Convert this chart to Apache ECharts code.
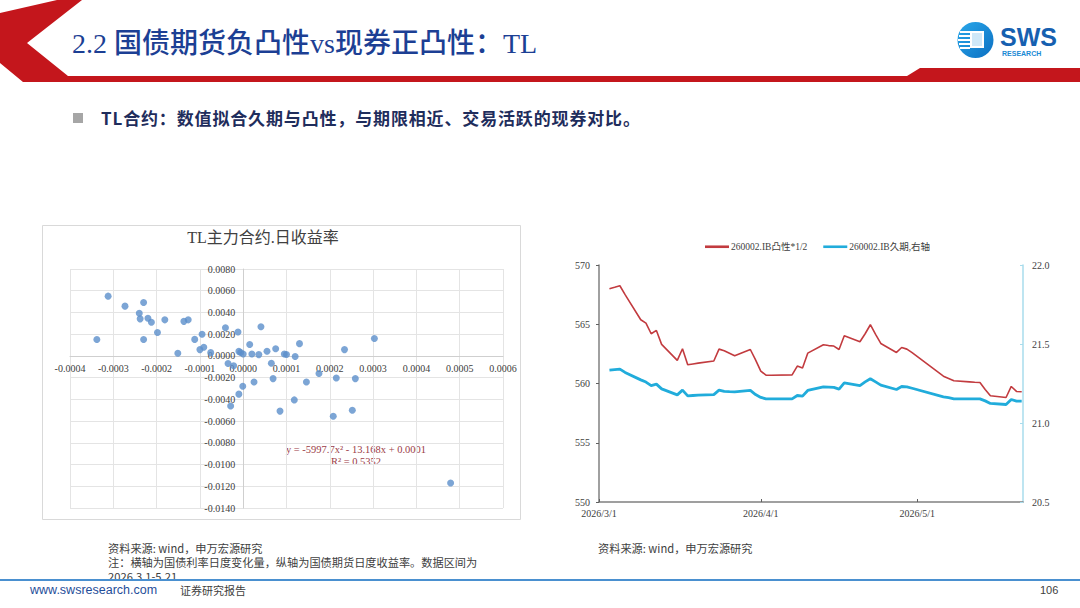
<!DOCTYPE html>
<html>
<head>
<meta charset="utf-8">
<script src="https://cdn.jsdelivr.net/npm/echarts@6/dist/echarts.min.js"></script>
<style>
  html,body{margin:0;padding:0;background:#fff;}
  body{width:1080px;height:608px;position:relative;overflow:hidden;font-family:"Noto Sans CJK SC","Liberation Sans",sans-serif;}
  #chart{position:absolute;left:0;top:0;width:1080px;height:608px;}
  .abs{position:absolute;white-space:nowrap;}
  #title{left:72px;top:25px;font-size:28px;line-height:38px;color:#1c3f94;font-family:"Liberation Serif","Noto Sans CJK SC",serif;font-weight:500;}
  #subtitle{left:101px;top:106px;font-size:17px;line-height:24px;color:#1f2d5c;font-weight:bold;letter-spacing:0.85px;}
  #bullet{left:73px;top:113px;width:10px;height:10px;background:#a6a6a6;}
  .src{font-size:11.2px;line-height:14px;color:#404040;}
  #www{left:30px;top:583px;font-size:12.5px;color:#1f4e9a;font-family:"Liberation Sans",Arial,sans-serif;}
  #report{left:180px;top:582px;font-size:11px;color:#404040;}
  #page{left:1040px;top:584px;font-size:11px;color:#404040;font-family:"Liberation Sans",Arial,sans-serif;}
</style>
</head>
<body>
<svg class="abs" style="left:0;top:0" width="1080" height="100">
  <polygon points="57,0 82,0 27,43 68,76 907,76 920,68 1080,68 1080,82 23,82 0,63 0,13" fill="#c4161c"/>
  <defs>
    <linearGradient id="lg" x1="0" y1="0" x2="1" y2="1">
      <stop offset="0" stop-color="#2aa8ea"/>
      <stop offset="1" stop-color="#0b6fc2"/>
    </linearGradient>
  </defs>
  <circle cx="975.5" cy="40" r="18" fill="url(#lg)"/>
  <rect x="960" y="31" width="10" height="2" fill="#fff"/>
  <rect x="959" y="35" width="11" height="2" fill="#fff"/>
  <rect x="958" y="39" width="12" height="2" fill="#fff"/>
  <rect x="959" y="43" width="11" height="2" fill="#fff"/>
  <rect x="960" y="47" width="10" height="2" fill="#fff"/>
  <rect x="970" y="31" width="14" height="17" fill="#fff"/>
  <rect x="972" y="33" width="10" height="13" fill="#cfe8f8"/>
  <text x="1000" y="46" font-family="Liberation Sans, Arial, sans-serif" font-weight="bold" font-size="25" fill="#1660b0">SWS</text>
  <text x="1002" y="56" font-family="Liberation Sans, Arial, sans-serif" font-weight="bold" font-size="7" fill="#1a8ad4">RESEARCH</text>
</svg>
<div id="title" class="abs">2.2 国债期货负凸性vs现券正凸性：TL</div>
<div id="bullet" class="abs"></div>
<div id="subtitle" class="abs">TL合约：数值拟合久期与凸性，与期限相近、交易活跃的现券对比。</div>
<div id="chart"></div>
<div class="abs src" style="left:108px;top:541px;">资料来源: wind，申万宏源研究</div>
<div class="abs src" style="left:108px;top:555px;">注：横轴为国债利率日度变化量，纵轴为国债期货日度收益率。数据区间为</div>
<div class="abs src" style="left:108px;top:569px;">2026.3.1-5.21</div>
<div class="abs src" style="left:598px;top:541px;">资料来源: wind，申万宏源研究</div>
<div class="abs" style="left:0;top:579px;width:1080px;height:2px;background:#4a90d0;"></div>
<div id="www" class="abs">www.swsresearch.com</div>
<div id="report" class="abs">证券研究报告</div>
<div id="page" class="abs">106</div>
<script>
// ---- Scatter: TL main contract daily return vs bond yield daily change ----
const rateChange = [-0.000312, -0.000338, -0.000273, -0.000230, -0.000240, -0.000238, -0.000220, -0.000212, -0.000230, -0.000198,
  -0.000181, -0.000151, -0.000137, -0.000127, -0.000112, -0.000100, -0.000091, -0.000095, -0.000075, -0.000041,
  -0.000035, -0.000029, -0.000022, -0.000012, -0.000010, -0.000006, 0.000000, -0.000010, -0.000001, 0.000015,
  0.000020, 0.000025, 0.000036, 0.000041, 0.000055, 0.000065, 0.000069, 0.000075, 0.000085, 0.000095,
  0.000100, 0.000118, 0.000120, 0.000130, 0.000146, 0.000175, 0.000208, 0.000215, 0.000234, 0.000252,
  0.000259, 0.000303, 0.000479];
const futReturn = [0.00550, 0.00151, 0.00458, 0.00492, 0.00393, 0.00341, 0.00347, 0.00310, 0.00151, 0.00215,
  0.00332, 0.00025, 0.00318, 0.00332, 0.00152, 0.00058, 0.00079, 0.00199, 0.00030, 0.00259,
  -0.00070, -0.00461, -0.00090, 0.00220, 0.00042, 0.00031, 0.00018, -0.00352, -0.00280, 0.00105,
  0.00018, -0.00240, 0.00012, 0.00268, 0.00043, -0.00067, -0.00209, 0.00066, -0.00508, 0.00018,
  0.00013, -0.00405, -0.00005, 0.00113, -0.00240, -0.00162, -0.00556, -0.00203, 0.00058, -0.00501,
  -0.00209, 0.00160, -0.01170];
const xTickLabels = ['-0.0004','-0.0003','-0.0002','-0.0001','0.0000','0.0001','0.0002','0.0003','0.0004','0.0005','0.0006'];
const scatterTitle = 'TL主力合约.日收益率';
const trendEquation = 'y = -5997.7x² - 13.168x + 0.0001';
const trendR2 = 'R² = 0.5352';

// ---- Lines: 260002.IB convexity*1/2 (left) and duration (right) ----
const tradeDates = ['2026-03-03','2026-03-04','2026-03-05','2026-03-06','2026-03-09','2026-03-10','2026-03-11','2026-03-12','2026-03-13',
  '2026-03-16','2026-03-17','2026-03-18','2026-03-19','2026-03-20','2026-03-23','2026-03-24','2026-03-25','2026-03-26','2026-03-27',
  '2026-03-30','2026-03-31','2026-04-01','2026-04-02','2026-04-03','2026-04-07','2026-04-08','2026-04-09','2026-04-10',
  '2026-04-13','2026-04-14','2026-04-15','2026-04-16','2026-04-17','2026-04-20','2026-04-21','2026-04-22','2026-04-23','2026-04-24',
  '2026-04-27','2026-04-28','2026-04-29','2026-04-30','2026-05-06','2026-05-07','2026-05-08','2026-05-11','2026-05-12','2026-05-13',
  '2026-05-14','2026-05-15','2026-05-18','2026-05-19','2026-05-20','2026-05-21'];
const convexityHalf = [568.00, 568.12, 568.25, 567.50, 565.38, 565.10, 564.20, 564.48, 563.30,
  561.95, 562.93, 561.58, 561.65, 561.72, 561.90, 562.90, 562.76, 562.55, 562.34,
  562.87, 562.00, 561.05, 560.70, 560.70, 560.73, 561.47, 561.30, 562.56,
  563.27, 563.20, 563.16, 562.87, 564.03, 563.52, 564.20, 564.96, 564.15, 563.38,
  562.62, 563.04, 562.90, 562.60, 560.62, 560.43, 560.23, 560.14, 560.10, 560.09,
  559.50, 558.96, 558.82, 559.75, 559.33, 559.30];
const duration = [21.335, 21.338, 21.341, 21.320, 21.273, 21.259, 21.237, 21.246, 21.216,
  21.178, 21.208, 21.172, 21.174, 21.176, 21.180, 21.208, 21.200, 21.198, 21.197,
  21.206, 21.180, 21.162, 21.153, 21.153, 21.153, 21.174, 21.170, 21.206,
  21.229, 21.227, 21.225, 21.214, 21.254, 21.237, 21.260, 21.280, 21.260, 21.240,
  21.212, 21.231, 21.229, 21.220, 21.165, 21.160, 21.153, 21.153, 21.153, 21.153,
  21.140, 21.124, 21.117, 21.149, 21.138, 21.138];
const seriesNames = ['260002.IB凸性*1/2', '260002.IB久期,右轴'];
const dateTickLabels = ['2026/3/1', '2026/4/1', '2026/5/1'];
const axisStartDate = '2026-03-01';
const axisEndDate = '2026-05-21';

const DAY = 24 * 3600 * 1000;
function toUTC(s) { const p = s.split(/[-\/]/).map(Number); return Date.UTC(p[0], p[1] - 1, p[2]); }
const t0 = toUTC(axisStartDate);
function dayNo(s) { return Math.round((toUTC(s) - t0) / DAY); }
const dateTicks = dateTickLabels.map(dayNo);

const serif = '"Liberation Serif","Times New Roman","Noto Sans CJK SC",serif';
const axisLabelStyle = { fontFamily: serif, fontSize: 10, color: '#404040' };
const RED = '#c23b3f', BLUE = '#21acdb';

// scatter grid and scales (axes cross at zero, as in the reference)
const sg = { left: 70, top: 269, width: 433, height: 239 };
const sx = { min: -0.0004, max: 0.0006, interval: 0.0001 };
const sy = { min: -0.014, max: 0.008, interval: 0.002 };
const xAxisShift = -sg.height * (0 - sy.min) / (sy.max - sy.min);   // move bottom axis up to y = 0
const yAxisShift = -sg.width * (0 - sx.min) / (sx.max - sx.min);     // move left axis right to x = 0

const chart = echarts.init(document.getElementById('chart'), null, { renderer: 'svg' });
const option = {
  animation: false,
  grid: [
    sg,
    { left: 599, top: 265, width: 424, height: 237 }
  ],
  legend: {
    data: [
      { name: seriesNames[0], icon: 'rect', itemStyle: { color: RED } },
      { name: seriesNames[1], icon: 'rect', itemStyle: { color: BLUE } }
    ],
    left: 700, top: 237,
    itemWidth: 24, itemHeight: 2.6, itemGap: 16,
    textStyle: { fontFamily: serif, fontSize: 9.5, color: '#404040', padding: [0, 0, 0, -3] }
  },
  xAxis: [
    {
      gridIndex: 0, type: 'value', min: sx.min, max: sx.max, interval: sx.interval,
      position: 'bottom', offset: xAxisShift,
      axisLine: { show: true, onZero: false, lineStyle: { color: '#cfcfcf' } },
      axisTick: { show: false },
      axisLabel: Object.assign({ margin: 8, formatter: function (v) { const i = Math.round(v / 0.0001) + 4; return xTickLabels[i]; } }, axisLabelStyle),
      splitLine: { show: true, lineStyle: { color: '#e4e4e4' } }
    },
    {
      gridIndex: 1, type: 'value', min: 0, max: dayNo(axisEndDate) + 0.25,
      axisLine: { show: true, onZero: false, lineStyle: { color: '#808080', width: 1.5 } },
      axisTick: { show: true, inside: true, length: 3, lineStyle: { color: '#606060' }, customValues: dateTicks },
      axisLabel: Object.assign({ margin: 6, customValues: dateTicks,
        formatter: function (v) { const i = dateTicks.indexOf(Math.round(v)); return i >= 0 ? dateTickLabels[i] : ''; } }, axisLabelStyle),
      splitLine: { show: false }
    }
  ],
  yAxis: [
    {
      gridIndex: 0, type: 'value', min: sy.min, max: sy.max, interval: sy.interval,
      position: 'left', offset: yAxisShift,
      axisLine: { show: true, onZero: false, lineStyle: { color: '#cfcfcf' } },
      axisTick: { show: false },
      axisLabel: Object.assign({ margin: 8, formatter: function (v) { return Math.abs(v) < 1e-12 ? '0.0000' : v.toFixed(4); } }, axisLabelStyle),
      splitLine: { show: true, lineStyle: { color: '#e4e4e4' } }
    },
    {
      gridIndex: 1, type: 'value', min: 550, max: 570, interval: 5,
      axisLine: { show: true, onZero: false, lineStyle: { color: '#808080', width: 1.5 } },
      axisTick: { show: true, length: 3, lineStyle: { color: '#606060' } },
      axisLabel: Object.assign({ margin: 9 }, axisLabelStyle),
      splitLine: { show: false }
    },
    {
      gridIndex: 1, type: 'value', position: 'right', min: 20.5, max: 22, interval: 0.5,
      axisLine: { show: true, onZero: false, lineStyle: { color: '#a8dcec', width: 1.5 } },
      axisTick: { show: true, inside: true, length: 3, lineStyle: { color: '#a8dcec' } },
      axisLabel: Object.assign({ margin: 9, formatter: function (v) { return v.toFixed(1); } }, axisLabelStyle),
      splitLine: { show: false }
    }
  ],
  series: [
    {
      type: 'scatter', xAxisIndex: 0, yAxisIndex: 0, symbolSize: 7,
      itemStyle: { color: '#5b8fcb' },
      data: rateChange.map(function (x, i) { return [x, futReturn[i]]; }),
      z: 5
    },
    {
      name: seriesNames[0], type: 'line', xAxisIndex: 1, yAxisIndex: 1, symbol: 'none',
      lineStyle: { color: RED, width: 1.6 }, itemStyle: { color: RED },
      data: tradeDates.map(function (d, i) { return [dayNo(d), convexityHalf[i]]; })
    },
    {
      name: seriesNames[1], type: 'line', xAxisIndex: 1, yAxisIndex: 2, symbol: 'none',
      lineStyle: { color: BLUE, width: 2.8 }, itemStyle: { color: BLUE },
      data: tradeDates.map(function (d, i) { return [dayNo(d), duration[i]]; })
    }
  ],
  graphic: [
    { type: 'rect', shape: { x: 42.5, y: 225.5, width: 478, height: 294 }, style: { fill: 'none', stroke: '#d9d9d9', lineWidth: 1 }, silent: true, z: -1 },
    { type: 'text', x: 263, y: 237, style: { text: scatterTitle, font: '16px "Liberation Serif","Noto Sans CJK SC",serif', fill: '#404040', textAlign: 'center', textVerticalAlign: 'middle' } },
    { type: 'text', x: 356, y: 449, style: { text: trendEquation, font: '10.5px "Liberation Serif","Times New Roman",serif', fill: '#9b3b46', textAlign: 'center', textVerticalAlign: 'middle' } },
    { type: 'text', x: 356, y: 461, style: { text: trendR2, font: '10.5px "Liberation Serif","Times New Roman",serif', fill: '#9b3b46', textAlign: 'center', textVerticalAlign: 'middle' } }
  ]
};
chart.setOption(option);
</script>
</body>
</html>
